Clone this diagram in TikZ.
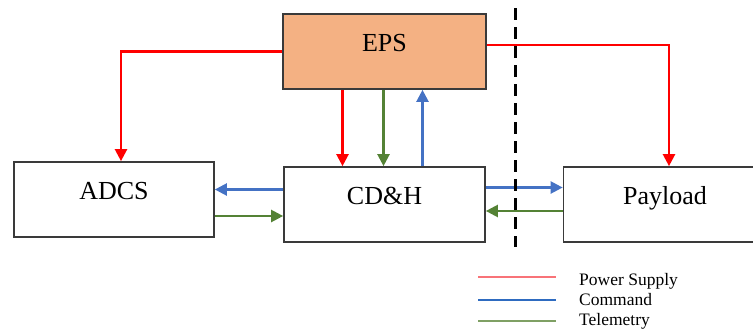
\documentclass[tikz,border=0pt]{standalone}
\usepackage{fontspec}
\setmainfont{Liberation Serif}
\usetikzlibrary{arrows.meta}
\definecolor{epsfill}{HTML}{F4B183}
\definecolor{pwr}{HTML}{FF0000}
\definecolor{cmd}{HTML}{4472C4}
\definecolor{tlm}{HTML}{548235}
\definecolor{boxline}{HTML}{3A3A3A}
\definecolor{lgpwr}{HTML}{F87378}
\definecolor{lgcmd}{HTML}{2E6BC0}
\definecolor{lgtlm}{HTML}{7FA064}
\begin{document}
\begin{tikzpicture}[x=1pt,y=-1pt,
  box/.style={draw=boxline,line width=1.7pt,fill=white,minimum width=201pt,minimum height=75pt,
    text height=18pt,text depth=18pt,inner sep=0pt,font=\fontsize{26}{30}\selectfont},
  conn/.style={line width=2.3pt,-{Triangle[length=12pt,width=12pt]}},
  pwrarr/.style={conn,draw=pwr},
  cmdarr/.style={conn,draw=cmd},
  tlmarr/.style={conn,draw=tlm},
  dashline/.style={line width=3pt,dash pattern=on 12pt off 7pt,black},
  legline/.style={line width=2pt},
  legtext/.style={anchor=base west,inner sep=0pt,font=\fontsize{17.5}{20}\selectfont}]
\useasboundingbox (0,0) rectangle (753,330);
\clip (0,0) rectangle (753,330);
\node[box,fill=epsfill,minimum width=203pt] (eps) at (384.5,51.5) {EPS};
\node[box,minimum width=200pt] (adcs) at (114,199.5) {ADCS};
\node[box] (cdh) at (384.5,204.5) {CD\&H};
\node[box,minimum width=203pt] (payload) at (665,204.5) {Payload};
% power supply
\draw[pwrarr] (eps.west) -| ([xshift=7pt]adcs.north);
\draw[pwrarr] ([yshift=6.5pt]eps.east) -| ([xshift=4pt]payload.north);
\draw[pwrarr] ([xshift=-42pt]eps.south) -- ([xshift=-42pt]cdh.north);
% telemetry / command EPS
\draw[tlmarr] ([xshift=-1pt]eps.south) -- ([xshift=-1pt]cdh.north);
\draw[cmdarr] ([xshift=38pt]cdh.north) -- ([xshift=38pt]eps.south);
% ADCS
\draw[cmdarr] ([yshift=15pt]cdh.west) -- ([yshift=15pt]cdh.west -| adcs.east);
\draw[tlmarr] ([yshift=-11.5pt]cdh.west -| adcs.east) -- ([yshift=-11.5pt]cdh.west);
% Payload
\draw[cmdarr] ([yshift=17pt]cdh.east) -- ([yshift=17pt]cdh.east -| payload.west);
\draw[tlmarr] ([yshift=-6.5pt]cdh.east -| payload.west) -- ([yshift=-6.5pt]cdh.east);
% boundary
\coordinate (dtop) at (515,8);
\coordinate (dbot) at (515,247);
\draw[dashline] (dtop) -- (dbot);
% legend
\coordinate (l1a) at (478,277); \coordinate (l1b) at (556,277);
\coordinate (l2a) at (478,300); \coordinate (l2b) at (556,300);
\coordinate (l3a) at (478,321); \coordinate (l3b) at (556,321);
\draw[legline,lgpwr] (l1a) -- (l1b);
\draw[legline,lgcmd] (l2a) -- (l2b);
\draw[legline,lgtlm] (l3a) -- (l3b);
\node[legtext] (lt1) at (579,285) {Power Supply};
\node[legtext] (lt2) at (579,305) {Command};
\node[legtext] (lt3) at (579,325.5) {Telemetry};
\end{tikzpicture}
\end{document}
